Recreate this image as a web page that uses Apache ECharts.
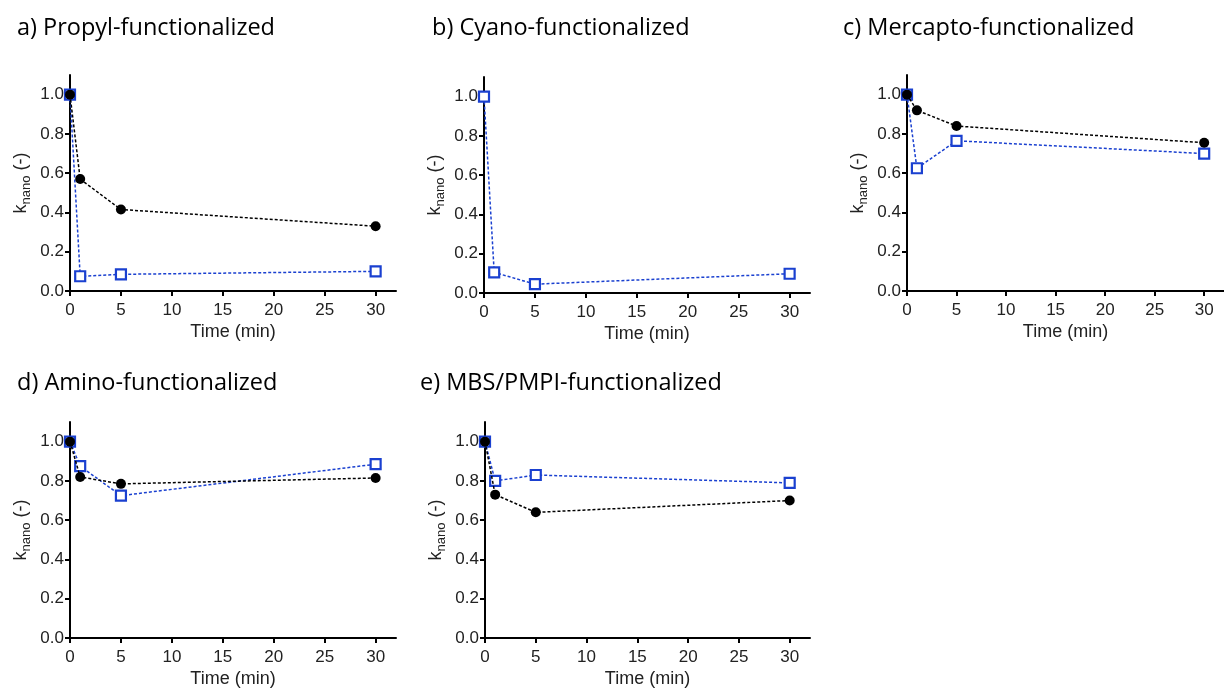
<!DOCTYPE html>
<html>
<head>
<meta charset="utf-8">
<script src="https://cdn.jsdelivr.net/npm/echarts@6/dist/echarts.min.js"></script>
<style>
  html, body { margin: 0; padding: 0; background: #fff; }
  #chart { width: 1224px; height: 689px; }
</style>
</head>
<body>
<div id="chart"></div>
<script>
// sampling times (min)
var times = [0, 1, 5, 30];
var xTicks = [0, 5, 10, 15, 20, 25, 30];
var yTicks = [0, 0.2, 0.4, 0.6, 0.8, 1.0];

var titles = ['a) Propyl-functionalized', 'b) Cyano-functionalized', 'c) Mercapto-functionalized',
              'd) Amino-functionalized', 'e) MBS/PMPI-functionalized'];

// black circles / blue open squares, one pair per panel
var propylBlack = [1.0, 0.57, 0.415, 0.33];
var propylBlue = [1.0, 0.075, 0.085, 0.10];
var cyanoBlue = [1.0, 0.105, 0.045, 0.098];
var mercaptoBlack = [1.0, 0.92, 0.84, 0.755];
var mercaptoBlue = [1.0, 0.625, 0.765, 0.70];
var aminoBlack = [1.0, 0.82, 0.785, 0.815];
var aminoBlue = [1.0, 0.875, 0.725, 0.885];
var mbsBlack = [1.0, 0.73, 0.64, 0.70];
var mbsBlue = [1.0, 0.80, 0.83, 0.79];

var panelBlack = [propylBlack, null, mercaptoBlack, aminoBlack, mbsBlack];
var panelBlue = [propylBlue, cyanoBlue, mercaptoBlue, aminoBlue, mbsBlue];

// grid boxes (px) and title positions
var boxes = [
  {left: 70, top: 75, width: 326},
  {left: 484, top: 77, width: 326},
  {left: 907, top: 75, width: 326},
  {left: 70, top: 422, width: 326},
  {left: 485, top: 422, width: 325}
];
var titlePos = [[12, 11], [427, 11], [838, 11], [12, 366], [415, 366]];

var blue = '#1a40d0';
var pair = function (xs, ys) { return xs.map(function (t, i) { return [t, ys[i]]; }); };

var grid = [], xAxis = [], yAxis = [], series = [], title = [];
boxes.forEach(function (b, i) {
  grid.push({left: b.left, top: b.top, width: b.width, height: 216});
  title.push({
    text: titles[i], left: titlePos[i][0], top: titlePos[i][1],
    textStyle: {fontFamily: 'Open Sans', fontWeight: 'normal', fontSize: 23.5, color: '#000'}
  });
  xAxis.push({
    gridIndex: i, type: 'value', min: 0, max: 32,
    name: 'Time (min)', nameLocation: 'middle', nameGap: 32,
    nameTextStyle: {fontFamily: 'Liberation Sans', fontSize: 18, color: '#222'},
    splitLine: {show: false},
    axisLine: {lineStyle: {color: '#000', width: 2}},
    axisTick: {customValues: xTicks, length: 5, lineStyle: {color: '#000', width: 2}},
    axisLabel: {customValues: xTicks, margin: 11, fontFamily: 'Liberation Sans', fontSize: 17, color: '#222'}
  });
  yAxis.push({
    gridIndex: i, type: 'value', min: 0, max: 1.1,
    name: '{k|k}{s|nano}{k| (-)}', nameLocation: 'middle', nameGap: 37, nameRotate: 90,
    nameTextStyle: {
      color: '#222',
      rich: {
        k: {fontFamily: 'Liberation Sans', fontSize: 18, color: '#222', lineHeight: 24, verticalAlign: 'middle'},
        s: {fontFamily: 'Liberation Sans', fontSize: 13, color: '#222', lineHeight: 24, verticalAlign: 'bottom'}
      }
    },
    splitLine: {show: false},
    axisLine: {lineStyle: {color: '#000', width: 2}},
    axisTick: {customValues: yTicks, length: 5, lineStyle: {color: '#000', width: 2}},
    axisLabel: {
      customValues: yTicks, margin: 6, fontFamily: 'Liberation Sans', fontSize: 17, color: '#222',
      formatter: function (v) { return v.toFixed(1); }
    }
  });
  series.push({
    type: 'line', xAxisIndex: i, yAxisIndex: i, data: pair(times, panelBlue[i]),
    symbol: 'rect', symbolSize: 10, z: 2,
    lineStyle: {color: blue, width: 1.5, type: [3, 2]},
    itemStyle: {color: '#fff', borderColor: blue, borderWidth: 2.2}
  });
  if (panelBlack[i]) {
    series.push({
      type: 'line', xAxisIndex: i, yAxisIndex: i, data: pair(times, panelBlack[i]),
      symbol: 'circle', symbolSize: 10, z: 3,
      lineStyle: {color: '#000', width: 1.5, type: [3, 2]},
      itemStyle: {color: '#000', borderWidth: 0}
    });
  }
});

var chart = echarts.init(document.getElementById('chart'));
chart.setOption({
  animation: false,
  title: title,
  grid: grid,
  xAxis: xAxis,
  yAxis: yAxis,
  series: series
});
window.addEventListener('resize', chart.resize);
</script>
</body>
</html>
